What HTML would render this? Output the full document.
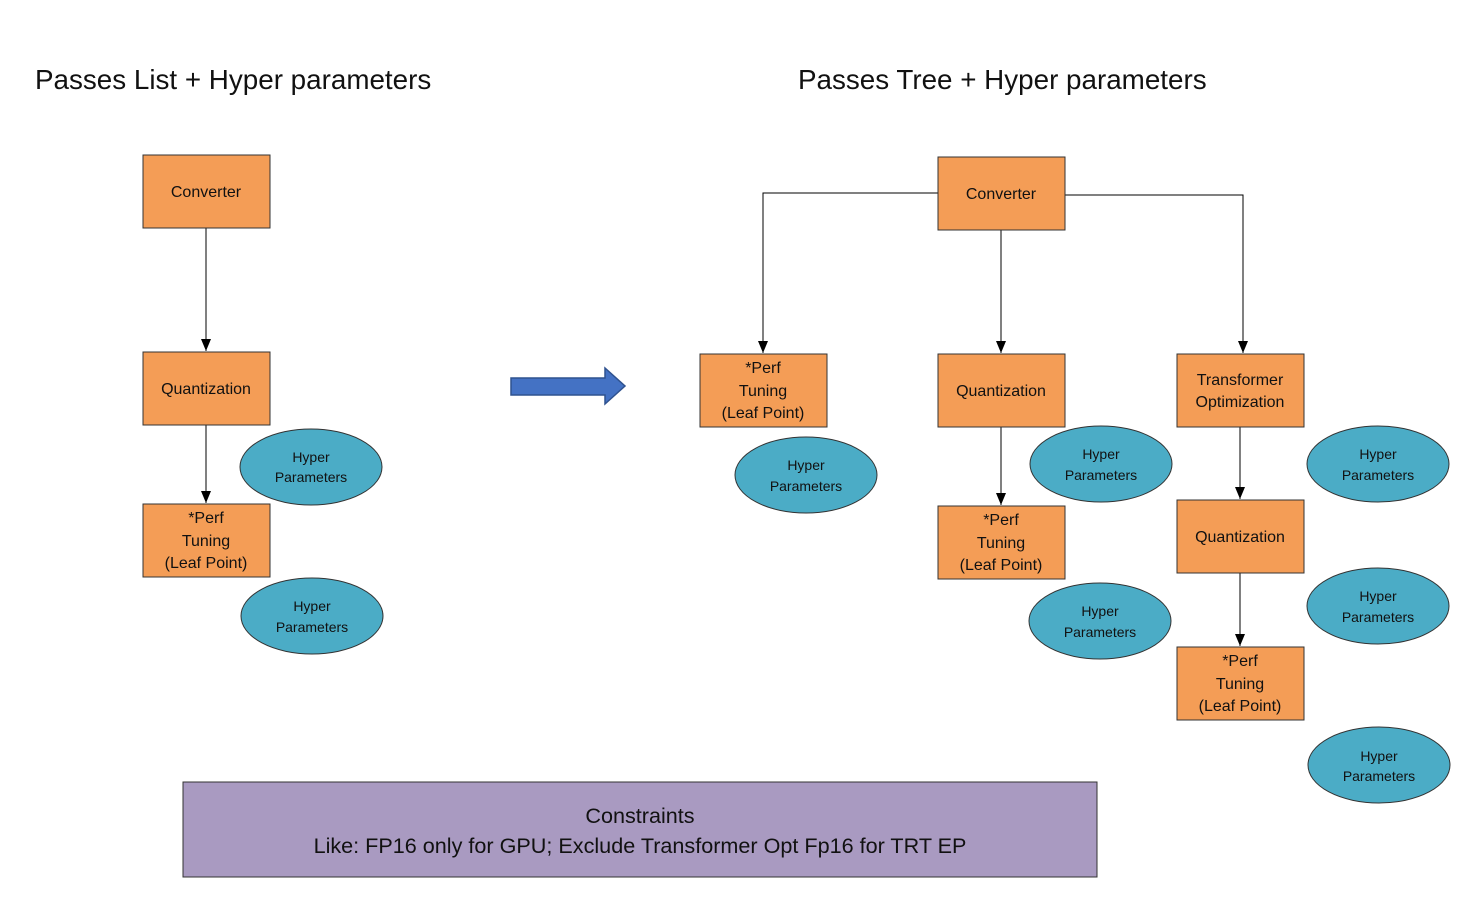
<!DOCTYPE html>
<html><head><style>body{margin:0;background:#fff}svg{display:block}text{font-family:"Liberation Sans",sans-serif;fill:#111}</style></head><body>
<svg width="1481" height="903" viewBox="0 0 1481 903" xmlns="http://www.w3.org/2000/svg">
<defs><marker id="a" markerWidth="12" markerHeight="10" refX="12" refY="5" orient="auto" markerUnits="userSpaceOnUse" viewBox="0 0 12 10"><path d="M0,0 L12,5 L0,10 z" fill="#000"/></marker></defs>
<text x="35" y="89" font-size="27.8">Passes List + Hyper parameters</text>
<text x="798" y="89" font-size="27.8">Passes Tree + Hyper parameters</text>
<g stroke="#000" stroke-width="1" fill="none">
<line x1="206" y1="228" x2="206" y2="351" marker-end="url(#a)"/>
<line x1="206" y1="425" x2="206" y2="503" marker-end="url(#a)"/>
<polyline points="938,193 763,193 763,353" marker-end="url(#a)"/>
<polyline points="1065,195 1243,195 1243,353" marker-end="url(#a)"/>
<line x1="1001" y1="230" x2="1001" y2="353" marker-end="url(#a)"/>
<line x1="1001" y1="427" x2="1001" y2="505" marker-end="url(#a)"/>
<line x1="1240" y1="427" x2="1240" y2="499" marker-end="url(#a)"/>
<line x1="1240" y1="573" x2="1240" y2="646" marker-end="url(#a)"/>
</g>
<g fill="#F49D56" stroke="#333" stroke-width="1">
<rect x="143" y="155" width="127" height="73"/>
<rect x="143" y="352" width="127" height="73"/>
<rect x="143" y="504" width="127" height="73"/>
<rect x="938" y="157" width="127" height="73"/>
<rect x="700" y="354" width="127" height="73"/>
<rect x="938" y="354" width="127" height="73"/>
<rect x="1177" y="354" width="127" height="73"/>
<rect x="938" y="506" width="127" height="73"/>
<rect x="1177" y="500" width="127" height="73"/>
<rect x="1177" y="647" width="127" height="73"/>
</g>
<g fill="#4BACC6" stroke="#333" stroke-width="1">
<ellipse cx="311" cy="467" rx="71" ry="38"/>
<ellipse cx="312" cy="616" rx="71" ry="38"/>
<ellipse cx="806" cy="475" rx="71" ry="38"/>
<ellipse cx="1101" cy="464" rx="71" ry="38"/>
<ellipse cx="1378" cy="464" rx="71" ry="38"/>
<ellipse cx="1100" cy="621" rx="71" ry="38"/>
<ellipse cx="1378" cy="606" rx="71" ry="38"/>
<ellipse cx="1379" cy="765" rx="71" ry="38"/>
</g>
<path d="M511,378 L605,378 L605,368 L625,386 L605,404 L605,395 L511,395 z" fill="#4472C4" stroke="#2F528F" stroke-width="1.5"/>
<g font-size="16" text-anchor="middle">
<text x="206" y="197">Converter</text>
<text x="206" y="394">Quantization</text>
<text x="206" y="523">*Perf</text><text x="206" y="546">Tuning</text><text x="206" y="568">(Leaf Point)</text>
<text x="1001" y="199">Converter</text>
<text x="763" y="373">*Perf</text><text x="763" y="396">Tuning</text><text x="763" y="418">(Leaf Point)</text>
<text x="1001" y="396">Quantization</text>
<text x="1240" y="385">Transformer</text><text x="1240" y="407">Optimization</text>
<text x="1001" y="525">*Perf</text><text x="1001" y="548">Tuning</text><text x="1001" y="570">(Leaf Point)</text>
<text x="1240" y="542">Quantization</text>
<text x="1240" y="666">*Perf</text><text x="1240" y="689">Tuning</text><text x="1240" y="711">(Leaf Point)</text>
</g>
<g font-size="14" text-anchor="middle">
<text x="311" y="462">Hyper</text><text x="311" y="482">Parameters</text>
<text x="312" y="611">Hyper</text><text x="312" y="632">Parameters</text>
<text x="806" y="470">Hyper</text><text x="806" y="491">Parameters</text>
<text x="1101" y="459">Hyper</text><text x="1101" y="480">Parameters</text>
<text x="1378" y="459">Hyper</text><text x="1378" y="480">Parameters</text>
<text x="1100" y="616">Hyper</text><text x="1100" y="637">Parameters</text>
<text x="1378" y="601">Hyper</text><text x="1378" y="622">Parameters</text>
<text x="1379" y="761">Hyper</text><text x="1379" y="781">Parameters</text>
</g>
<rect x="183" y="782" width="914" height="95" fill="#A99AC1" stroke="#333" stroke-width="1"/>
<g font-size="21.6" text-anchor="middle">
<text x="640" y="823">Constraints</text>
<text x="640" y="853">Like: FP16 only for GPU; Exclude Transformer Opt Fp16 for TRT EP</text>
</g>
</svg>
</body></html>
